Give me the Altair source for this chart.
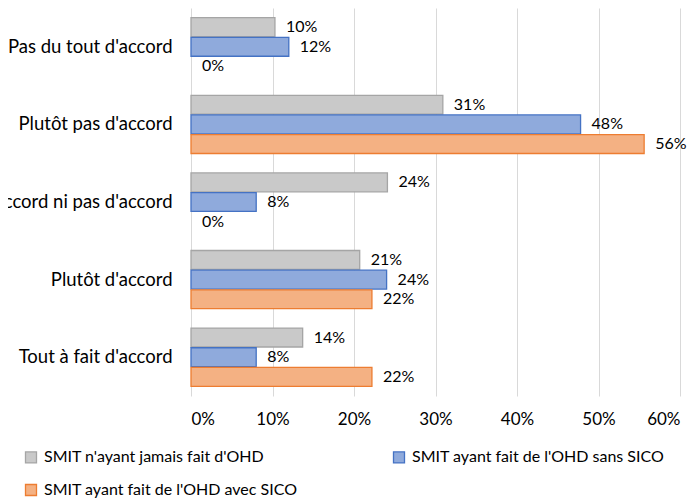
import altair as alt
import pandas as pd

categories = ["Pas du tout d'accord", "Plutôt pas d'accord", "Ni d'accord ni pas d'accord",
              "Plutôt d'accord", "Tout à fait d'accord"]
series = ["SMIT n'ayant jamais fait d'OHD", "SMIT ayant fait de l'OHD sans SICO",
          "SMIT ayant fait de l'OHD avec SICO"]
never_ohd = [0.103, 0.309, 0.241, 0.207, 0.137]
ohd_sans_sico = [0.120, 0.478, 0.080, 0.240, 0.080]
ohd_avec_sico = [0.0, 0.556, 0.0, 0.222, 0.222]
fills = ["#C9C9C9", "#8FAADC", "#F4B183"]
strokes = ["#A5A5A5", "#4472C4", "#ED7D31"]
x_ticks = [0, 0.1, 0.2, 0.3, 0.4, 0.5, 0.6]

rows = []
for s, vals in zip(series, [never_ohd, ohd_sans_sico, ohd_avec_sico]):
    for c, v in zip(categories, vals):
        rows.append({"category": c, "series": s, "value": v})
df = pd.DataFrame(rows)

FONT = "Lato"

y = alt.Y("category:N", sort=categories,
          scale=alt.Scale(paddingInner=0.25, paddingOuter=0.125),
          axis=alt.Axis(title=None, ticks=False, domain=False, labelFontSize=18.5,
                        labelPadding=19, labelLimit=400, labelColor="#000000"))
yoff = alt.YOffset("series:N", sort=series, scale=alt.Scale(paddingInner=0.04))
x = alt.X("value:Q", scale=alt.Scale(domain=[0, 0.6], nice=False),
          axis=alt.Axis(title=None, ticks=False, domain=False, format=".0%",
                        values=x_ticks, gridColor="#D9D9D9", labelFontSize=17,
                        labelPadding=15, labelColor="#000000"))

legend = alt.Legend(title=None, orient="none", legendX=-168, legendY=441,
                    direction="horizontal", columns=2, symbolType="square",
                    symbolSize=121, symbolStrokeWidth=1.3, labelFontSize=16,
                    labelColor="#000000", columnPadding=92, rowPadding=15,
                    labelOffset=5, labelLimit=400)

bars = alt.Chart(df).transform_filter("datum.value > 0").mark_bar(strokeWidth=1.3).encode(
    y=y, yOffset=yoff, x=x,
    fill=alt.Fill("series:N", sort=series, scale=alt.Scale(domain=series, range=fills), legend=legend),
    stroke=alt.Stroke("series:N", sort=series, scale=alt.Scale(domain=series, range=strokes), legend=legend),
)

labels = alt.Chart(df).mark_text(align="left", baseline="middle", dx=11, fontSize=16,
                                 color="#000000", font=FONT).encode(
    y=alt.Y("category:N", sort=categories), yOffset=alt.YOffset("series:N", sort=series),
    x=alt.X("value:Q"),
    text=alt.Text("value:Q", format=".0%"),
)

chart = alt.layer(bars, labels).properties(
    width=489, height=388,
    autosize=alt.AutoSizeParams(type="none"),
    padding={"left": 183, "top": 0, "right": 9, "bottom": 105},
).configure(font=FONT).configure_view(stroke=None)

chart.save("out.html", embed_options={"renderer": "svg", "actions": False})
